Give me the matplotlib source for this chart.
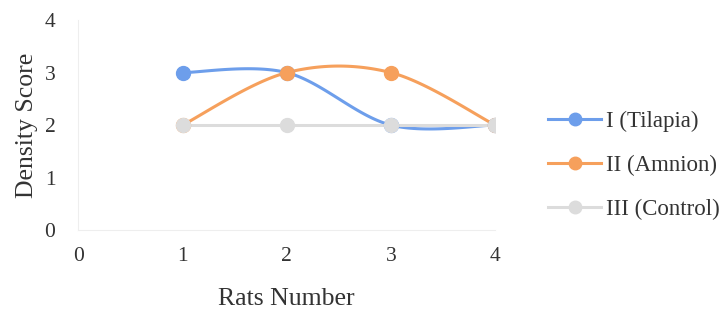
import numpy as np
import matplotlib
matplotlib.use("Agg")
import matplotlib.pyplot as plt

x_vals = [1, 2, 3, 4]
tilapia = [3, 3, 2, 2]
amnion = [2, 3, 3, 2]
control = [2, 2, 2, 2]
labels = ["I (Tilapia)", "II (Amnion)", "III (Control)"]
colors = ["#6d9eeb", "#f6a05c", "#dcdcdc"]

plt.rcParams['font.family'] = ['Liberation Serif', 'DejaVu Serif']


def smooth(xs, ys, n=40):
    P = np.column_stack([xs, ys]).astype(float)
    Pext = np.vstack([P[0], P, P[-1]])
    out = []
    for i in range(1, len(Pext) - 2):
        p0, p1, p2, p3 = Pext[i - 1], Pext[i], Pext[i + 1], Pext[i + 2]
        c1 = p1 + (p2 - p0) / 6.0
        c2 = p2 - (p3 - p1) / 6.0
        t = np.linspace(0, 1, n)[:, None]
        seg = ((1 - t) ** 3) * p1 + 3 * ((1 - t) ** 2) * t * c1 + 3 * (1 - t) * t ** 2 * c2 + t ** 3 * p2
        out.append(seg if i == 1 else seg[1:])
    s = np.vstack(out)
    return s[:, 0], s[:, 1]


fig = plt.figure(figsize=(7.26, 3.10), dpi=100)
ax = fig.add_axes([0.108, 0.258, 0.574, 0.677])

series = [tilapia, amnion, control]
handles = []
for ys, lab, c in zip(series, labels, colors):
    sx, sy = smooth(x_vals, ys)
    ax.plot(sx, sy, color=c, lw=2.2, zorder=2)
    ax.plot(x_vals, ys, 'o', color=c, ms=10, zorder=3)
    h, = ax.plot([], [], '-o', color=c, lw=2.2, ms=9, label=lab)
    handles.append(h)

ax.set_xlim(0, 4)
ax.set_ylim(0, 4)
ax.set_xticks([0, 1, 2, 3, 4])
ax.set_yticks([0, 1, 2, 3, 4])
ax.tick_params(length=0, labelsize=15.5, colors='#333333')
ax.tick_params(axis='x', pad=12)
ax.tick_params(axis='y', pad=16.5)
for s in ['top', 'right']:
    ax.spines[s].set_visible(False)
for s in ['left', 'bottom']:
    ax.spines[s].set_color('#eeeeee')
    ax.spines[s].set_linewidth(0.8)
ax.set_xlabel("Rats Number", fontsize=18.5, color='#333333', labelpad=16)
ax.set_ylabel("Density Score", fontsize=18.5, color='#333333', labelpad=5)

fig.legend(handles=handles, loc='upper left', bbox_to_anchor=(0.727, 0.71),
           frameon=False, fontsize=16.5, handlelength=2.3, handletextpad=0.2,
           labelspacing=1.0, labelcolor='#333333')

fig.savefig("out.png", dpi=100)
